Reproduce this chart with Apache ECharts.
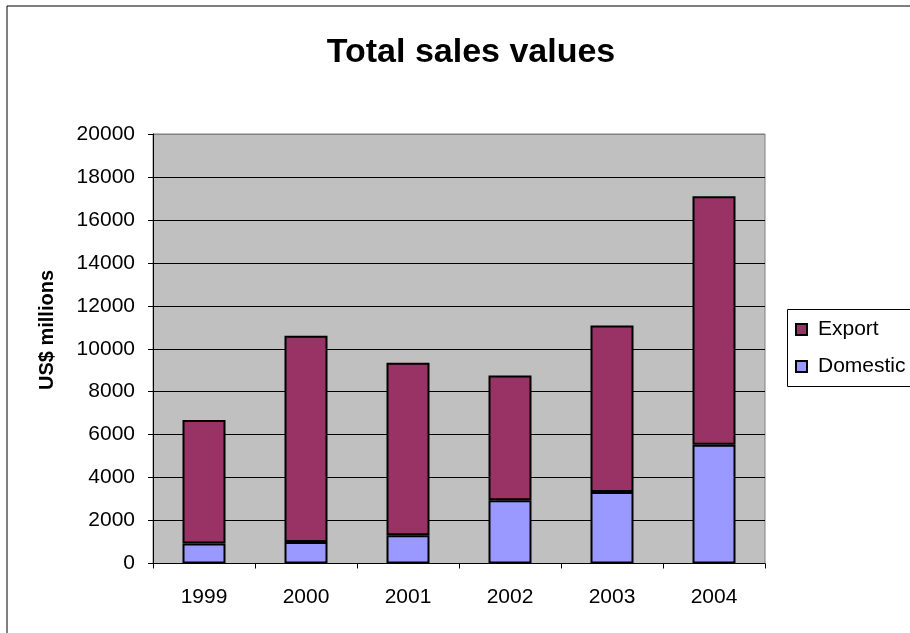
<!DOCTYPE html>
<html>
<head>
<meta charset="utf-8">
<script src="https://cdn.jsdelivr.net/npm/echarts@6/dist/echarts.min.js"></script>
<style>html,body{margin:0;padding:0;background:#fff}#c{width:910px;height:633px}</style>
</head>
<body>
<div id="c"></div>
<script>
var categories = ['1999', '2000', '2001', '2002', '2003', '2004'];
var domestic = [930, 1000, 1320, 2940, 3330, 5530];
var exportVals = [5750, 9600, 8030, 5820, 7750, 11570];
var titleText = 'Total sales values';
var yAxisName = 'US$ millions';

var FONT = '"Liberation Sans", Arial, sans-serif';
var chart = echarts.init(document.getElementById('c'), null, {renderer: 'canvas'});
var splitColors = [];
for (var i = 0; i < 10; i++) splitColors.push('#000');
splitColors.push('#808080');

chart.setOption({
  animation: false,
  backgroundColor: '#fff',
  title: {
    text: titleText,
    left: 466, top: 31, textAlign: 'center',
    textStyle: {fontFamily: FONT, fontWeight: 'bold', fontSize: 34, color: '#000'}
  },
  grid: {
    left: 153, right: 145, top: 134, bottom: 69.5,
    show: true, backgroundColor: '#C0C0C0', borderColor: '#808080', borderWidth: 1
  },
  legend: {
    orient: 'vertical',
    left: 787, top: 309,
    data: ['Export', 'Domestic'],
    itemWidth: 11, itemHeight: 11, itemGap: 16,
    padding: [10, 4, 9, 8],
    borderWidth: 0,
    icon: 'rect',
    textStyle: {fontFamily: FONT, fontSize: 21, color: '#000', lineHeight: 21, padding: [0, 0, 0, 6]}
  },
  xAxis: {
    type: 'category',
    data: categories,
    boundaryGap: true,
    axisLine: {show: true, lineStyle: {color: '#000', width: 1}},
    axisTick: {show: true, length: 5, lineStyle: {color: '#000'}},
    axisLabel: {fontFamily: FONT, fontSize: 21, color: '#000', margin: 23},
    splitLine: {show: false}
  },
  yAxis: {
    type: 'value',
    min: 0, max: 20000, interval: 2000,
    axisLine: {show: true, lineStyle: {color: '#000', width: 1}},
    axisTick: {show: true, length: 5, lineStyle: {color: '#000'}},
    axisLabel: {fontFamily: FONT, fontSize: 21, color: '#000', margin: 18,
      formatter: function (v) { return String(v); }},
    splitLine: {show: true, lineStyle: {color: splitColors, width: 1}}
  },
  graphic: [
    {type: 'rect', shape: {x: 7, y: 6, width: 1000, height: 1000}, style: {fill: 'none', stroke: '#000', lineWidth: 1}, silent: true, z: 100},
    {type: 'rect', shape: {x: 787.5, y: 309.5, width: 200, height: 77}, style: {fill: 'none', stroke: '#000', lineWidth: 1}, silent: true, z: 100},
    {type: 'text', x: 47, y: 330, rotation: Math.PI / 2,
     style: {text: yAxisName, fontFamily: FONT, fontWeight: 'bold', fontSize: 20, fill: '#000', textAlign: 'center', textVerticalAlign: 'middle'}}
  ],
  series: [
    {
      name: 'Domestic', type: 'bar', stack: 'total', data: domestic, barWidth: 43,
      itemStyle: {color: '#9999FF', borderColor: '#000', borderWidth: 2}
    },
    {
      name: 'Export', type: 'bar', stack: 'total', data: exportVals, barWidth: 43,
      itemStyle: {color: '#993366', borderColor: '#000', borderWidth: 2}
    }
  ]
});
</script>
</body>
</html>
